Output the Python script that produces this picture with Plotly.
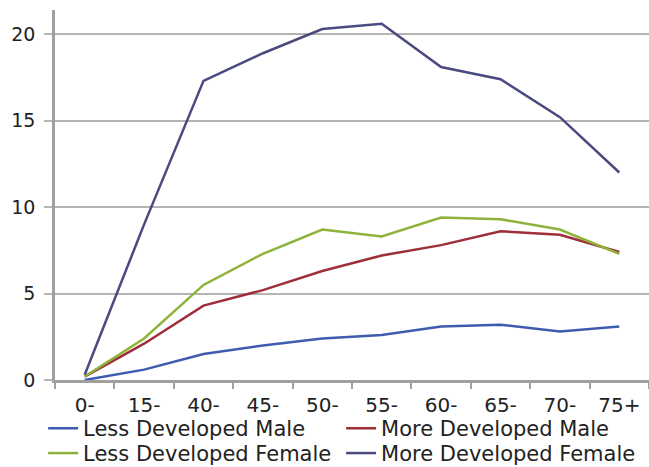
import plotly.graph_objects as go

categories = ["0-", "15-", "40-", "45-", "50-", "55-", "60-", "65-", "70-", "75+"]
less_dev_male = [0.0, 0.6, 1.5, 2.0, 2.4, 2.6, 3.1, 3.2, 2.8, 3.1]
more_dev_male = [0.2, 2.1, 4.3, 5.2, 6.3, 7.2, 7.8, 8.6, 8.4, 7.4]
less_dev_female = [0.2, 2.4, 5.5, 7.3, 8.7, 8.3, 9.4, 9.3, 8.7, 7.3]
more_dev_female = [0.3, 9.0, 17.3, 18.9, 20.3, 20.6, 18.1, 17.4, 15.2, 12.0]

series = [
    ("Less Developed Male", less_dev_male, "#3d5cb0", "legend"),
    ("More Developed Male", more_dev_male, "#9e2f3a", "legend"),
    ("Less Developed Female", less_dev_female, "#8db33b", "legend2"),
    ("More Developed Female", more_dev_female, "#4a4a80", "legend2"),
]

fig = go.Figure()
for name, vals, col, leg in series:
    fig.add_trace(go.Scatter(x=categories, y=vals, name=name, mode="lines",
                             line=dict(color=col, width=2.5), legend=leg))

FONT = "DejaVu Sans, Liberation Sans, Arial, sans-serif"
legend_common = dict(orientation="h", x=-0.02, xanchor="left", yanchor="top",
                     entrywidth=253, entrywidthmode="pixels",
                     font=dict(family=FONT, size=21, color="#222222"),
                     traceorder="normal", tracegroupgap=0, itemwidth=30,
                     bgcolor="rgba(0,0,0,0)")
fig.update_layout(
    width=649, height=467,
    margin=dict(l=55, r=0, t=10, b=87, autoexpand=False),
    paper_bgcolor="white", plot_bgcolor="white",
    font=dict(family=FONT, size=19, color="#222222"),
    showlegend=True,
    legend=dict(y=-0.076, **legend_common),
    legend2=dict(y=-0.143, **legend_common),
    xaxis=dict(type="category", range=[-0.5, 9.5], showgrid=False,
               showline=True, linecolor="#a0a0a0", linewidth=2.5,
               ticks="outside", tickson="boundaries", ticklen=6, tickcolor="#a0a0a0",
               tickwidth=1.5, ticklabelstandoff=5,
               tickfont=dict(family=FONT, size=20, color="#222222")),
    yaxis=dict(range=[0, 21.4], tickvals=[0, 5, 10, 15, 20], showgrid=True,
               gridcolor="#b4b4b4", gridwidth=2, zeroline=False,
               showline=True, linecolor="#a0a0a0", linewidth=2.5,
               ticks="outside", ticklen=8, tickcolor="#b4b4b4", tickwidth=2,
               ticklabelstandoff=5,
               tickfont=dict(family=FONT, size=19, color="#222222")),
)

fig.write_html("out.html", config={"displayModeBar": False},
               post_script="document.body.style.margin='0';document.body.style.overflow='hidden';")
